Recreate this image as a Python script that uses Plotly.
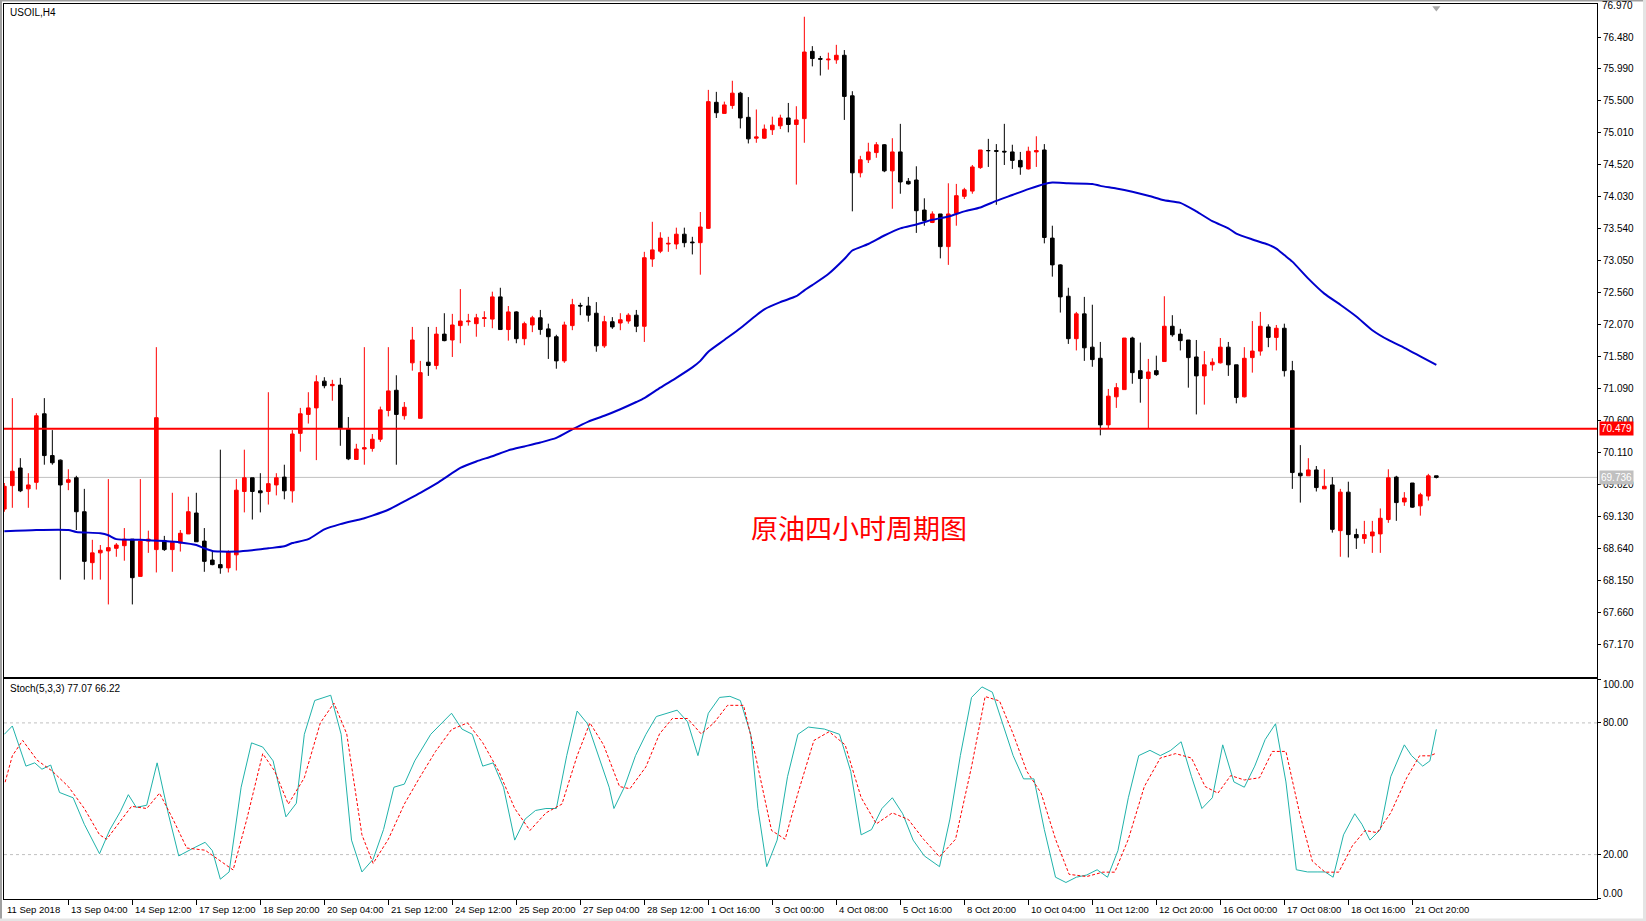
import plotly.graph_objects as go

W, H = 1646, 921

# ---------------- price data (H4 bars, index 0..179) ----------------
opens = [69.25,69.61,69.88,69.56,69.66,70.71,70.07,70.00,69.66,69.73,
         69.21,68.43,68.58,68.61,68.65,68.69,68.79,68.22,68.76,68.63,
         68.77,68.63,68.73,68.87,69.19,68.76,68.47,68.40,68.35,68.55,
         69.52,69.73,69.53,69.52,69.62,69.74,69.53,70.41,70.70,70.80,
         71.21,71.14,71.15,70.47,70.01,70.17,70.18,70.32,70.76,71.07,
         70.68,71.49,70.64,71.50,71.45,71.93,71.84,72.06,72.12,72.09,
         72.17,72.16,72.50,72.00,72.27,71.86,72.07,72.18,72.01,71.89,
         71.52,72.06,72.37,72.36,72.25,71.75,72.12,72.10,72.13,72.22,
         72.05,73.08,73.20,73.31,73.31,73.46,73.34,73.33,73.55,75.48,
         75.31,75.43,75.62,75.25,74.93,74.93,75.06,75.12,75.24,75.14,
         75.23,76.26,76.15,76.13,76.13,76.20,75.58,74.40,74.60,74.71,
         74.83,74.43,74.72,74.27,74.29,73.83,73.64,73.77,73.27,73.78,
         74.04,74.12,74.48,74.74,74.74,74.73,74.72,74.59,74.46,74.72,
         74.75,73.40,72.99,72.51,71.86,72.24,71.73,71.56,70.54,70.97,
         71.08,71.87,71.37,71.25,71.37,71.51,72.05,71.93,71.84,71.58,
         71.29,71.46,71.49,71.73,71.46,70.97,71.57,71.67,72.04,71.88,
         72.02,71.37,69.80,69.76,69.85,69.56,69.62,68.92,69.51,68.86,
         68.80,68.84,68.87,69.09,69.74,69.36,69.65,69.30,69.45,69.76]
highs = [69.65,70.95,70.03,69.80,70.72,70.95,70.46,70.01,69.86,69.76,
         69.56,68.78,68.70,69.71,68.73,68.96,68.79,69.71,68.92,71.73,
         68.84,69.50,68.93,69.44,69.50,68.96,68.60,70.16,68.62,69.71,
         70.16,69.73,69.80,71.04,69.80,69.93,70.46,70.80,71.04,71.30,
         71.27,71.23,71.26,70.66,70.25,71.73,70.40,70.82,71.73,71.30,
         70.89,72.04,71.52,72.04,72.04,72.25,72.24,72.62,72.24,72.24,
         72.28,72.58,72.64,72.36,72.28,72.12,72.21,72.30,72.09,71.92,
         72.12,72.47,72.41,72.50,72.42,72.21,72.19,72.25,72.25,72.30,
         73.19,73.65,73.49,73.42,73.56,73.56,73.42,73.80,75.67,75.64,
         75.49,75.81,75.64,75.56,75.37,75.14,75.26,75.29,75.47,75.42,
         76.79,76.34,76.19,76.24,76.36,76.28,75.65,74.66,74.86,74.87,
         74.84,74.93,75.15,74.32,74.50,74.01,73.81,73.77,74.24,74.23,
         74.17,74.52,74.75,74.92,74.84,75.15,74.83,74.72,74.80,74.96,
         74.84,73.59,73.00,72.64,72.27,72.50,72.38,71.81,71.09,71.18,
         71.87,71.89,71.80,71.55,71.60,72.51,72.22,72.01,71.84,71.84,
         71.67,71.56,71.87,71.81,71.46,71.73,72.13,72.27,72.08,72.07,
         72.09,71.52,70.23,70.03,69.91,69.86,69.74,69.56,69.67,68.95,
         69.07,69.07,69.26,69.86,69.76,69.51,69.65,69.50,69.79,69.76]
lows = [69.21,69.27,69.51,69.27,69.55,69.93,69.93,68.17,69.54,68.93,
        68.17,68.17,68.17,67.79,68.52,68.46,67.79,68.22,68.58,68.28,
        68.61,68.29,68.60,68.87,68.75,68.29,68.39,68.26,68.28,68.31,
        69.20,69.09,69.20,69.32,69.46,69.40,69.35,70.13,70.56,70.00,
        71.10,70.91,70.22,70.00,70.01,69.93,70.13,70.28,70.67,69.93,
        70.62,71.37,70.64,71.29,71.39,71.82,71.58,71.79,72.06,71.89,
        72.04,72.02,72.00,71.83,71.79,71.76,71.96,71.92,71.55,71.40,
        71.49,71.99,72.22,72.12,71.66,71.72,72.01,71.99,72.09,71.96,
        71.81,72.96,73.17,73.19,73.23,73.26,73.15,72.84,73.54,75.24,
        75.31,75.38,75.08,74.85,74.86,74.92,74.98,75.07,75.02,74.22,
        74.86,76.03,75.89,75.98,76.07,75.21,73.81,74.33,74.55,74.63,
        74.41,73.85,74.08,74.22,73.48,73.59,73.63,73.09,72.99,73.59,
        74.00,74.08,74.46,74.49,73.91,74.52,74.46,74.37,74.45,74.49,
        73.32,72.81,72.26,71.78,71.68,71.52,71.43,70.38,70.48,70.80,
        71.08,71.17,70.88,70.48,71.29,71.51,71.89,71.68,71.11,70.70,
        70.85,71.37,71.48,71.29,70.87,70.96,71.34,71.60,71.73,71.68,
        71.28,69.56,69.35,69.76,69.52,69.56,68.89,68.52,68.51,68.64,
        68.72,68.58,68.58,69.04,69.07,69.30,69.27,69.15,69.38,69.72]
closes = [69.60,69.83,69.53,69.62,70.68,70.07,69.96,69.62,69.70,69.21,
          68.45,68.58,68.62,68.66,68.70,68.79,68.20,68.76,68.79,70.65,
          68.63,68.74,68.88,69.21,68.75,68.45,68.40,68.35,68.59,69.54,
          69.73,69.52,69.50,69.64,69.73,69.53,70.40,70.71,70.80,71.20,
          71.14,71.16,70.49,70.02,70.17,70.19,70.32,70.77,71.06,70.70,
          70.81,71.84,71.34,71.45,71.93,71.83,72.07,72.13,72.13,72.18,
          72.18,72.50,72.00,72.27,71.86,72.09,72.18,72.00,71.89,71.52,
          72.07,72.38,72.36,72.22,71.75,72.12,72.04,72.15,72.22,72.05,
          73.10,73.22,73.40,73.32,73.46,73.33,73.33,73.57,75.49,75.32,
          75.44,75.62,75.24,74.92,74.95,75.07,75.13,75.24,75.14,75.21,
          76.25,76.15,76.14,76.14,76.20,75.57,74.40,74.60,74.72,74.83,
          74.43,74.72,74.26,74.23,73.82,73.67,73.77,73.27,73.77,74.05,
          74.14,74.49,74.75,74.74,74.73,74.72,74.59,74.49,74.73,74.74,
          73.41,72.99,72.50,71.86,72.24,71.72,71.54,70.54,70.98,71.11,
          71.87,71.34,71.25,71.35,71.31,72.05,71.92,71.83,71.57,71.29,
          71.46,71.50,71.73,71.46,70.96,71.56,71.67,72.05,71.88,72.02,
          71.37,69.81,69.76,69.85,69.58,69.60,68.94,69.51,68.86,68.81,
          68.86,68.90,69.11,69.73,69.35,69.42,69.28,69.47,69.76,69.736]
bars = list(range(len(closes)))

# moving average (blue), read at selected bars
ma_x = [0,4,8,9,12,13,14,17,20,22,24,25,26,27,29,31,33,35,36,38,40,42,44,45,46,48,50,52,54,
        55,57,59,61,63,65,67,69,71,73,75,77,79,80,82,84,86,87,88,90,92,93,94,95,97,99,100,
        101,103,105,106,108,110,112,114,116,118,120,122,124,126,128,130,131,133,136,137,139,
        141,143,145,147,149,151,153,154,156,158,159,160,161,163,165,167,169,171,173,175,177,179]
ma_y = [68.91,68.93,68.93,68.90,68.88,68.85,68.79,68.78,68.76,68.74,68.70,68.65,68.61,68.60,
        68.60,68.62,68.65,68.68,68.73,68.79,68.94,69.02,69.08,69.11,69.15,69.24,69.37,69.50,
        69.64,69.72,69.88,69.98,70.06,70.15,70.21,70.27,70.34,70.47,70.59,70.68,70.78,70.89,
        70.95,71.11,71.26,71.42,71.52,71.66,71.84,72.02,72.12,72.22,72.31,72.42,72.51,72.60,
        72.68,72.85,73.08,73.21,73.31,73.44,73.55,73.61,73.68,73.73,73.81,73.87,73.97,74.06,
        74.15,74.23,74.25,74.24,74.23,74.20,74.16,74.11,74.05,73.98,73.94,73.81,73.66,73.55,
        73.47,73.38,73.30,73.24,73.14,73.04,72.78,72.55,72.38,72.20,71.99,71.84,71.72,71.59,71.46]

level_red = 70.479
last_price = 69.736

# stochastic (5,3,3): %K main line and %D signal line (bar position, value)
k_x = [0,1,2.7,3.8,4.7,5.8,6.9,8.6,10,11.9,13.2,14.5,15.5,16.5,17.8,19.1,20.5,21.8,23.5,25.1,
       26,27,28.1,29.6,30.9,32.3,33.6,35.2,36.5,37.5,38.8,40.8,42.1,43.4,44.7,46.1,47.4,48.7,
       50,51.3,53.3,54.6,55.9,57.2,58.5,59.8,61.1,62.4,63.8,65.1,66.4,67.7,69,70.3,71.6,72.9,
       74.3,75.6,76.2,77.5,78.9,80.2,81.5,82.8,84.1,85.4,86.7,88,89.4,90.7,92,93.3,94.2,95.3,
       96.6,97.9,99.2,100.5,102.5,104.4,105.8,107.1,108.4,109.7,111,112.3,113.6,115,116.9,
       118.2,119.5,120.9,122.2,123.5,124.8,126.1,127.4,128.7,130,131.4,132.7,134,135.3,136.6,
       137.9,139.2,140.5,141.8,143.2,144.5,145.8,147.1,148.4,149.7,151,152.3,153.7,155,156.3,
       157.6,158.9,160.2,161.5,162.9,164.2,165.1,166.1,167.4,168.8,169.7,170.7,172,173.3,175,
       175.9,177.3,178.2,179]
k_y = [74.8,78.6,60.3,61.8,58.9,60.8,48.3,45.9,33.8,20.4,31.4,39.6,47.3,41.5,42.5,61.8,38.6,
       19.4,22.7,25.6,21.8,8.8,12.1,50.7,70.9,69,62.7,37.2,43.4,74.8,90.2,92.6,74.8,26.6,12.1,
       17.9,31.4,50.7,52.1,62.7,74.8,79.6,84.4,77.2,74.8,60.3,61.8,50.7,26.6,36.2,40.1,41,41,
       65.1,85.4,79.6,65.1,50.7,41,50.7,65.1,74.8,82.9,84.4,85.8,80.5,65.1,84.4,91.6,92.1,90.2,
       74.8,41,14.5,26.6,55.5,74.8,78.1,77.2,74.8,57.9,29,31.4,41,45.9,38.6,26.6,19.4,14.5,36.2,
       65.1,91.6,96.4,94,79.6,65.1,54.5,54.5,31.4,9.7,7.3,9.7,10.7,13.1,9.7,21.8,45.9,65.1,67.5,
       65.1,67.5,71.4,55.5,41,45.9,70,53.1,50.7,60.3,72.4,79.6,53.1,13.1,12.1,12.1,12.1,9.7,29,
       38.6,33.8,26.6,31.4,55.5,70,65.1,60.3,62.7,77.07]
d_x = [0.1,1,2.3,4.1,6,8,10,11.9,12.8,14.6,15.9,17.8,19.4,21.1,22.8,25.1,27,28.6,30.3,32.3,
       33.8,35.5,37.5,39.5,41.2,42.8,44.7,46.1,48,50,51.9,53.9,55.9,57.9,59.8,61.8,63.8,65.7,
       67.7,69.7,71.6,73.2,74.9,76.9,78.2,80.2,81.9,83.5,85.4,87.1,88.7,90.4,92.4,93.9,95.9,
       97.6,99.2,101.2,103.1,105.1,107.1,109,111,113,114.9,116.9,118.9,120.9,122.6,124.4,126.1,
       127.8,129.6,131.4,133.1,135.3,137.3,138.8,140.5,142.5,144.5,146.4,148.4,150.1,151.7,
       153.3,155,156.9,158.5,160.2,161.9,163.5,165.1,166.8,168.5,170.1,171.6,173.3,175.3,
       176.9,178.2,179]
d_y = [53,65,72,63,58,51,41,29,27,36,42,41,48,36,23,22,17,13,36,66,58,43,55,80,89,75,29,16,27,
       43,55,67,77,80,71,58,41,31,39,43,65,80,70,51,50,60,75,82,82,75,80,88,88,65,31,27,48,72,
       76,70,46,34,39,36,27,19,27,60,92,90,75,58,48,27,11,10,12,12,27,51,64,66,64,51,48,56,54,
       55,67,67,39,17,12,12,24,31,30,39,55,65,65,66.22]

stoch_levels = [20, 80]

tick_bars = [8*k for k in range(1, 23)]
time_labels = ["11 Sep 2018", "13 Sep 04:00", "14 Sep 12:00", "17 Sep 12:00", "18 Sep 20:00",
               "20 Sep 04:00", "21 Sep 12:00", "24 Sep 12:00", "25 Sep 20:00", "27 Sep 04:00",
               "28 Sep 12:00", "1 Oct 16:00", "3 Oct 00:00", "4 Oct 08:00", "5 Oct 16:00",
               "8 Oct 20:00", "10 Oct 04:00", "11 Oct 12:00", "12 Oct 20:00", "16 Oct 00:00",
               "17 Oct 08:00", "18 Oct 16:00", "21 Oct 20:00"]
price_ticks = [round(76.97 - 0.49*k, 3) for k in range(21)]

# ---------------- geometry (pixels) ----------------
PX_L, PX_R = 4, 1597
MAIN_T, MAIN_B = 4, 677
ST_T, ST_B = 679, 898.5
BAR0, BARW = 4.33, 8.0
P_TOP, PX_PER = 76.97, 65.3   # price at y=5, pixels per unit


def fx(px):
    return px / W


def fy(py):
    return 1 - py / H


x_range = [(PX_L - BAR0) / BARW, (PX_R - BAR0) / BARW]
y_range = [P_TOP - (MAIN_B - 5) / PX_PER, P_TOP - (MAIN_T - 5) / PX_PER]

FONT = "Liberation Sans, Arial, sans-serif"

fig = go.Figure()
fig.add_trace(go.Candlestick(
    x=bars, open=opens, high=highs, low=lows, close=closes,
    increasing=dict(line=dict(color="#ff0000", width=1), fillcolor="#ff0000"),
    decreasing=dict(line=dict(color="#000000", width=1), fillcolor="#000000"),
    whiskerwidth=0, showlegend=False, hoverinfo="skip", xaxis="x", yaxis="y"))
fig.add_trace(go.Scatter(x=ma_x, y=ma_y, mode="lines",
                         line=dict(color="#0000cd", width=2, shape="spline", smoothing=0.6),
                         showlegend=False, hoverinfo="skip", xaxis="x", yaxis="y"))
fig.add_trace(go.Scatter(x=[bars[-1]], y=[y_range[1] - 0.06], mode="markers",
                         marker=dict(symbol="triangle-down", size=7, color="#a8a8a8"),
                         showlegend=False, hoverinfo="skip", cliponaxis=False,
                         xaxis="x", yaxis="y"))
fig.add_trace(go.Scatter(x=k_x, y=k_y, mode="lines", line=dict(color="#20b2aa", width=1),
                         showlegend=False, hoverinfo="skip", xaxis="x2", yaxis="y2"))
fig.add_trace(go.Scatter(x=d_x, y=d_y, mode="lines",
                         line=dict(color="#ff0000", width=1, dash="3px,2px"),
                         showlegend=False, hoverinfo="skip", xaxis="x2", yaxis="y2"))

shapes = [
    dict(type="line", xref="x domain", yref="y", x0=0, x1=1, y0=level_red, y1=level_red,
         line=dict(color="#ff0000", width=2), layer="above"),
    dict(type="line", xref="x domain", yref="y", x0=0, x1=1, y0=last_price, y1=last_price,
         line=dict(color="#c0c0c0", width=1), layer="below"),
]
for lv in stoch_levels:
    shapes.append(dict(type="line", xref="x2 domain", yref="y2", x0=0, x1=1, y0=lv, y1=lv,
                       line=dict(color="#c0c0c0", width=1, dash="3px,3px"), layer="below"))
# window frame
shapes += [
    dict(type="rect", xref="paper", yref="paper", x0=0, x1=fx(2), y0=0, y1=1,
         line=dict(width=0), fillcolor="#a0a0a0"),
    dict(type="rect", xref="paper", yref="paper", x0=0, x1=1, y0=fy(1.5), y1=1,
         line=dict(width=0), fillcolor="#a0a0a0"),
    dict(type="rect", xref="paper", yref="paper", x0=fx(1643), x1=1, y0=0, y1=1,
         line=dict(width=0), fillcolor="#e4e4e4"),
    dict(type="rect", xref="paper", yref="paper", x0=0, x1=1, y0=0, y1=fy(918.5),
         line=dict(width=0), fillcolor="#e4e4e4"),
]

annotations = [
    dict(text="USOIL,H4", xref="paper", yref="paper", x=fx(8), y=fy(12), xanchor="left",
         yanchor="middle", showarrow=False, font=dict(family=FONT, size=10, color="#000")),
    dict(text="Stoch(5,3,3) 77.07 66.22", xref="paper", yref="paper", x=fx(7.5), y=fy(688),
         xanchor="left", yanchor="middle", showarrow=False,
         font=dict(family=FONT, size=10, color="#000")),
    dict(text="原油四小时周期图", xref="paper", yref="paper", x=fx(859), y=fy(527),
         xanchor="center", yanchor="middle", showarrow=False,
         font=dict(family="Noto Sans CJK SC", size=27, color="#ff0000")),
    dict(text=f"{price_ticks[0]:.3f}", xref="paper", yref="y", x=fx(1600), y=price_ticks[0],
         xanchor="left", yanchor="middle", showarrow=False,
         font=dict(family=FONT, size=10, color="#000")),
    dict(text=f"{level_red:.3f}", xref="paper", yref="y", x=fx(1599), y=level_red,
         xanchor="left", yanchor="middle", showarrow=False, bgcolor="#ff0000", borderpad=1,
         font=dict(family=FONT, size=10, color="#ffffff")),
    dict(text=f"{last_price:.3f}", xref="paper", yref="y", x=fx(1599), y=last_price,
         xanchor="left", yanchor="middle", showarrow=False, bgcolor="#c0c0c0", borderpad=1,
         font=dict(family=FONT, size=10, color="#ffffff")),
    dict(text="100.00", xref="paper", yref="paper", x=fx(1601), y=fy(684), xanchor="left",
         yanchor="middle", showarrow=False, font=dict(family=FONT, size=10, color="#000")),
    dict(text="0.00", xref="paper", yref="paper", x=fx(1601), y=fy(893), xanchor="left",
         yanchor="middle", showarrow=False, font=dict(family=FONT, size=10, color="#000")),
]
for b, lab in zip([0] + tick_bars, time_labels):
    annotations.append(dict(text=lab, xref="x2", yref="paper", x=b, y=fy(909),
                            xanchor="left", yanchor="middle", xshift=1, showarrow=False,
                            font=dict(family=FONT, size=9.5, color="#000")))

axis_common = dict(showgrid=False, zeroline=False, showline=True, mirror=True,
                   linecolor="#000000", linewidth=1)

fig.update_layout(
    width=W, height=H, autosize=False,
    margin=dict(l=0, r=0, t=0, b=0),
    paper_bgcolor="#ffffff", plot_bgcolor="#ffffff",
    boxgap=0.35,
    showlegend=False,
    xaxis=dict(domain=[fx(PX_L), fx(PX_R)], range=x_range, anchor="y",
               showticklabels=False, ticks="", rangeslider=dict(visible=False), **axis_common),
    yaxis=dict(domain=[fy(MAIN_B), fy(MAIN_T)], range=y_range, anchor="x", side="right",
               tickvals=price_ticks[1:], ticktext=[f"{v:.3f}" for v in price_ticks[1:]],
               ticks="outside", ticklen=3, tickcolor="#000",
               tickfont=dict(family=FONT, size=10, color="#000"), **axis_common),
    xaxis2=dict(domain=[fx(PX_L), fx(PX_R)], range=x_range, anchor="y2",
                tickvals=tick_bars, ticks="outside", ticklen=5, tickcolor="#000",
                showticklabels=False, **axis_common),
    yaxis2=dict(domain=[fy(ST_B), fy(ST_T)], range=[0, 100], anchor="x2", side="right",
                tickvals=[0, 20, 80, 100], ticktext=["", "20.00", "80.00", ""],
                ticks="outside", ticklen=3, tickcolor="#000",
                tickfont=dict(family=FONT, size=10, color="#000"), **axis_common),
    shapes=shapes,
    annotations=annotations,
)

fig.write_html("out.html")
